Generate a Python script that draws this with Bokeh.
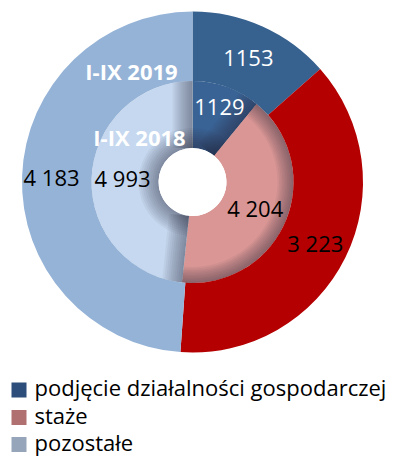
import math
from bokeh.plotting import figure
from bokeh.models import Range1d, ColumnDataSource
from bokeh.core.properties import value
from bokeh.embed import file_html
from bokeh.resources import INLINE

# ---- data ----
categories = ["podjęcie działalności gospodarczej", "staże", "pozostałe"]
values_2019 = [1153, 3223, 4183]
values_2018 = [1129, 4204, 4993]
labels_2019 = ["1153", "3 223", "4 183"]
labels_2018 = ["1129", "4 204", "4 993"]
series_names = ["I-IX 2019", "I-IX 2018"]

# ---- styles ----
outer_colors = ["#37618F", "#B40000", "#95B3D7"]
inner_colors = ["#3A6395", "#D99694", "#C6D8EF"]
legend_colors = ["#2D4E7A", "#B07070", "#97A5BA"]
outer_label_colors = ["white", "black", "black"]
inner_label_colors = ["white", "black", "black"]
outer_label_r = [136, 137, 141]
inner_label_r = [80, 68, 70]
# inner-ring bevel shading flags per slice
shade_start = [False, False, True]
shade_end = [True, False, True]
shade_hole = [True, False, True]
shade_outer = [False, True, False]
SHADOW = "#1F2D3D"

W, H = 405, 457
FONT = "Open Sans"

def to_data(X, Y):
    return X, H - Y

cx, cy = to_data(192, 181.5)
R_HOLE, R_MID, R_OUT = 34, 101, 170.5

p = figure(width=W, height=H, x_range=Range1d(0, W), y_range=Range1d(0, H),
           output_backend="svg", toolbar_location=None, min_border=0)
p.axis.visible = False
p.grid.visible = False
p.outline_line_color = None
p.background_fill_color = "white"
p.border_fill_color = "white"


def ring_angles(vals):
    total = float(sum(vals))
    starts, ends, mids = [], [], []
    cum = 0.0
    for v in vals:
        a0 = math.pi / 2 - 2 * math.pi * cum / total
        cum += v
        a1 = math.pi / 2 - 2 * math.pi * cum / total
        starts.append(a0)
        ends.append(a1)
        mids.append((a0 + a1) / 2)
    return starts, ends, mids


s19, e19, m19 = ring_angles(values_2019)
s18, e18, m18 = ring_angles(values_2018)

# inner ring
src_in = ColumnDataSource(dict(x=[cx] * 3, y=[cy] * 3, start=s18, end=e18, color=inner_colors))
p.annular_wedge(x="x", y="y", inner_radius=R_HOLE, outer_radius=R_MID, start_angle="start",
                end_angle="end", direction="clock", fill_color="color", line_color=None, source=src_in)

# bevel shading on inner ring (stacked translucent bands)
N_LAYERS, STEP, ALPHA = 10, 2.0, 0.05
xs, ys = [], []
aw = dict(x=[], y=[], ri=[], ro=[], a0=[], a1=[])
for i in range(3):
    edges = []
    if shade_start[i]:
        th = s18[i]
        edges.append((th, (math.sin(th), -math.cos(th))))
    if shade_end[i]:
        th = e18[i]
        edges.append((th, (-math.sin(th), math.cos(th))))
    for k in range(1, N_LAYERS + 1):
        w = k * STEP
        for th, (nx, ny) in edges:
            dx, dy = math.cos(th), math.sin(th)
            p1 = (cx + R_HOLE * dx, cy + R_HOLE * dy)
            p2 = (cx + R_MID * dx, cy + R_MID * dy)
            xs.append([p1[0], p2[0], p2[0] + w * nx, p1[0] + w * nx])
            ys.append([p1[1], p2[1], p2[1] + w * ny, p1[1] + w * ny])
        if shade_hole[i]:
            aw["x"].append(cx); aw["y"].append(cy)
            aw["ri"].append(R_HOLE); aw["ro"].append(R_HOLE + w)
            aw["a0"].append(s18[i]); aw["a1"].append(e18[i])
        if shade_outer[i]:
            aw["x"].append(cx); aw["y"].append(cy)
            aw["ri"].append(R_MID - w * 0.8); aw["ro"].append(R_MID)
            aw["a0"].append(s18[i]); aw["a1"].append(e18[i])
p.patches(xs=xs, ys=ys, fill_color=SHADOW, fill_alpha=ALPHA, line_color=None)
p.annular_wedge(x="x", y="y", inner_radius="ri", outer_radius="ro", start_angle="a0", end_angle="a1",
                direction="clock", fill_color=SHADOW, fill_alpha=ALPHA, line_color=None,
                source=ColumnDataSource(aw))

# outer ring
src_out = ColumnDataSource(dict(x=[cx] * 3, y=[cy] * 3, start=s19, end=e19, color=outer_colors))
p.annular_wedge(x="x", y="y", inner_radius=R_MID, outer_radius=R_OUT, start_angle="start",
                end_angle="end", direction="clock", fill_color="color", line_color=None, source=src_out)

# hole
p.circle(x=[cx], y=[cy], radius=R_HOLE, fill_color="white", line_color=None)

# value labels
ox = [cx + r * math.cos(a) for r, a in zip(outer_label_r, m19)]
oy = [cy + r * math.sin(a) for r, a in zip(outer_label_r, m19)]
p.text(x=ox, y=oy, text=labels_2019, text_color=outer_label_colors, text_font=value(FONT),
       text_font_size="22px", text_align="center", text_baseline="middle")
ix = [cx + r * math.cos(a) for r, a in zip(inner_label_r, m18)]
iy = [cy + r * math.sin(a) for r, a in zip(inner_label_r, m18)]
p.text(x=ix, y=iy, text=labels_2018, text_color=inner_label_colors, text_font=value(FONT),
       text_font_size="22px", text_align="center", text_baseline="middle")

# series names
sx = [to_data(131, 70)[0], to_data(139, 136)[0]]
sy = [to_data(131, 70)[1], to_data(139, 136)[1]]
p.text(x=sx, y=sy, text=series_names, text_color="white", text_font=value(FONT),
       text_font_style="bold", text_font_size="22px", text_align="center", text_baseline="middle")

# legend
leg_Y = [389.5, 417, 444]
lx = [to_data(18.5, Y)[0] for Y in leg_Y]
ly = [to_data(18.5, Y)[1] for Y in leg_Y]
p.rect(x=lx, y=ly, width=15, height=15, fill_color=legend_colors, line_color=None)
tx = [to_data(34, Y)[0] for Y in leg_Y]
ty = [to_data(34, Y - 3)[1] for Y in leg_Y]
p.text(x=tx, y=ty, text=categories, text_color="black", text_font=value(FONT),
       text_font_size="22px", text_align="left", text_baseline="middle")

open("out.html", "w").write(file_html(p, INLINE))
